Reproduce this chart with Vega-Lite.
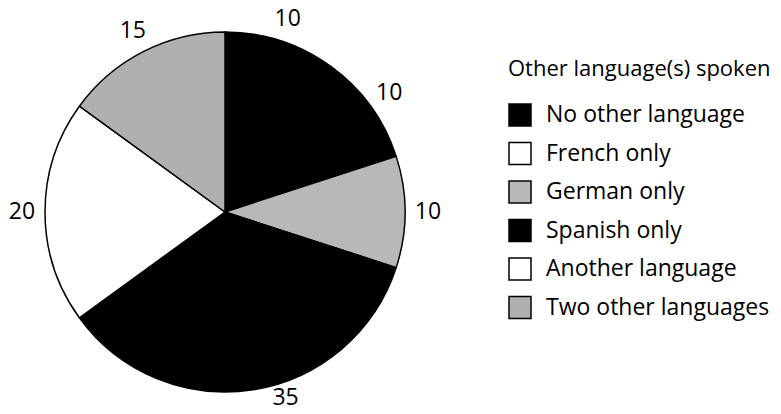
{
  "$schema": "https://vega.github.io/schema/vega-lite/v6.json",
  "width": 450,
  "height": 404,
  "autosize": {"type": "none"},
  "padding": {"left": 0, "top": 10, "right": 331, "bottom": 0},
  "background": "white",
  "config": {"view": {"stroke": null}, "font": "Open Sans"},
  "data": {
    "values": [
      {"lang": "No other language", "pct": 10},
      {"lang": "French only", "pct": 10},
      {"lang": "German only", "pct": 10},
      {"lang": "Spanish only", "pct": 35},
      {"lang": "Another language", "pct": 20},
      {"lang": "Two other languages", "pct": 15}
    ]
  },
  "transform": [{"window": [{"op": "row_number", "as": "rank"}]}],
  "encoding": {
    "theta": {"field": "pct", "type": "quantitative", "stack": true},
    "order": {"field": "rank", "type": "quantitative"}
  },
  "layer": [
    {
      "mark": {"type": "arc", "outerRadius": 180, "stroke": "black", "strokeWidth": 1.5},
      "encoding": {
        "fill": {
          "field": "lang",
          "type": "nominal",
          "scale": {
            "domain": ["No other language", "French only", "German only", "Spanish only", "Another language", "Two other languages"],
            "range": ["#000000", "#000000", "#b8b8b8", "#000000", "#ffffff", "#b0b0b0"]
          },
          "legend": null
        }
      }
    },
    {
      "mark": {"type": "text", "radius": 203, "fontSize": 23, "font": "Open Sans", "color": "black"},
      "encoding": {
        "text": {"condition": {"test": "datum.lang !== 'Spanish only'", "field": "pct", "type": "quantitative"}, "value": ""}
      }
    },
    {
      "mark": {"type": "text", "radius": 196, "thetaOffset": -0.157, "fontSize": 23, "font": "Open Sans", "color": "black"},
      "encoding": {
        "text": {"condition": {"test": "datum.lang === 'Spanish only'", "field": "pct", "type": "quantitative"}, "value": ""}
      }
    },
    {
      "mark": {"type": "arc", "outerRadius": 0, "innerRadius": 0, "strokeWidth": 0},
      "encoding": {
        "fill": {
          "field": "lang",
          "type": "nominal",
          "sort": ["No other language", "French only", "German only", "Spanish only", "Another language", "Two other languages"],
          "scale": {
            "domain": ["No other language", "French only", "German only", "Spanish only", "Another language", "Two other languages"],
            "range": ["#000000", "#ffffff", "#b8b8b8", "#000000", "#ffffff", "#b0b0b0"]
          },
          "legend": {
            "title": "Other language(s) spoken",
            "orient": "none",
            "legendX": 508,
            "legendY": 49,
            "padding": 0,
            "symbolType": "square",
            "symbolSize": 484,
            "symbolStrokeColor": "black",
            "symbolStrokeWidth": 1.5,
            "labelFont": "Open Sans",
            "labelFontSize": 23,
            "labelColor": "black",
            "labelOffset": 14,
            "labelLimit": 400,
            "titleFont": "Open Sans",
            "titleFontSize": 22,
            "titleFontWeight": "normal",
            "titleColor": "black",
            "titleLimit": 400,
            "titlePadding": 22,
            "rowPadding": 10.5
          }
        }
      }
    }
  ],
  "resolve": {"scale": {"fill": "independent"}}
}
